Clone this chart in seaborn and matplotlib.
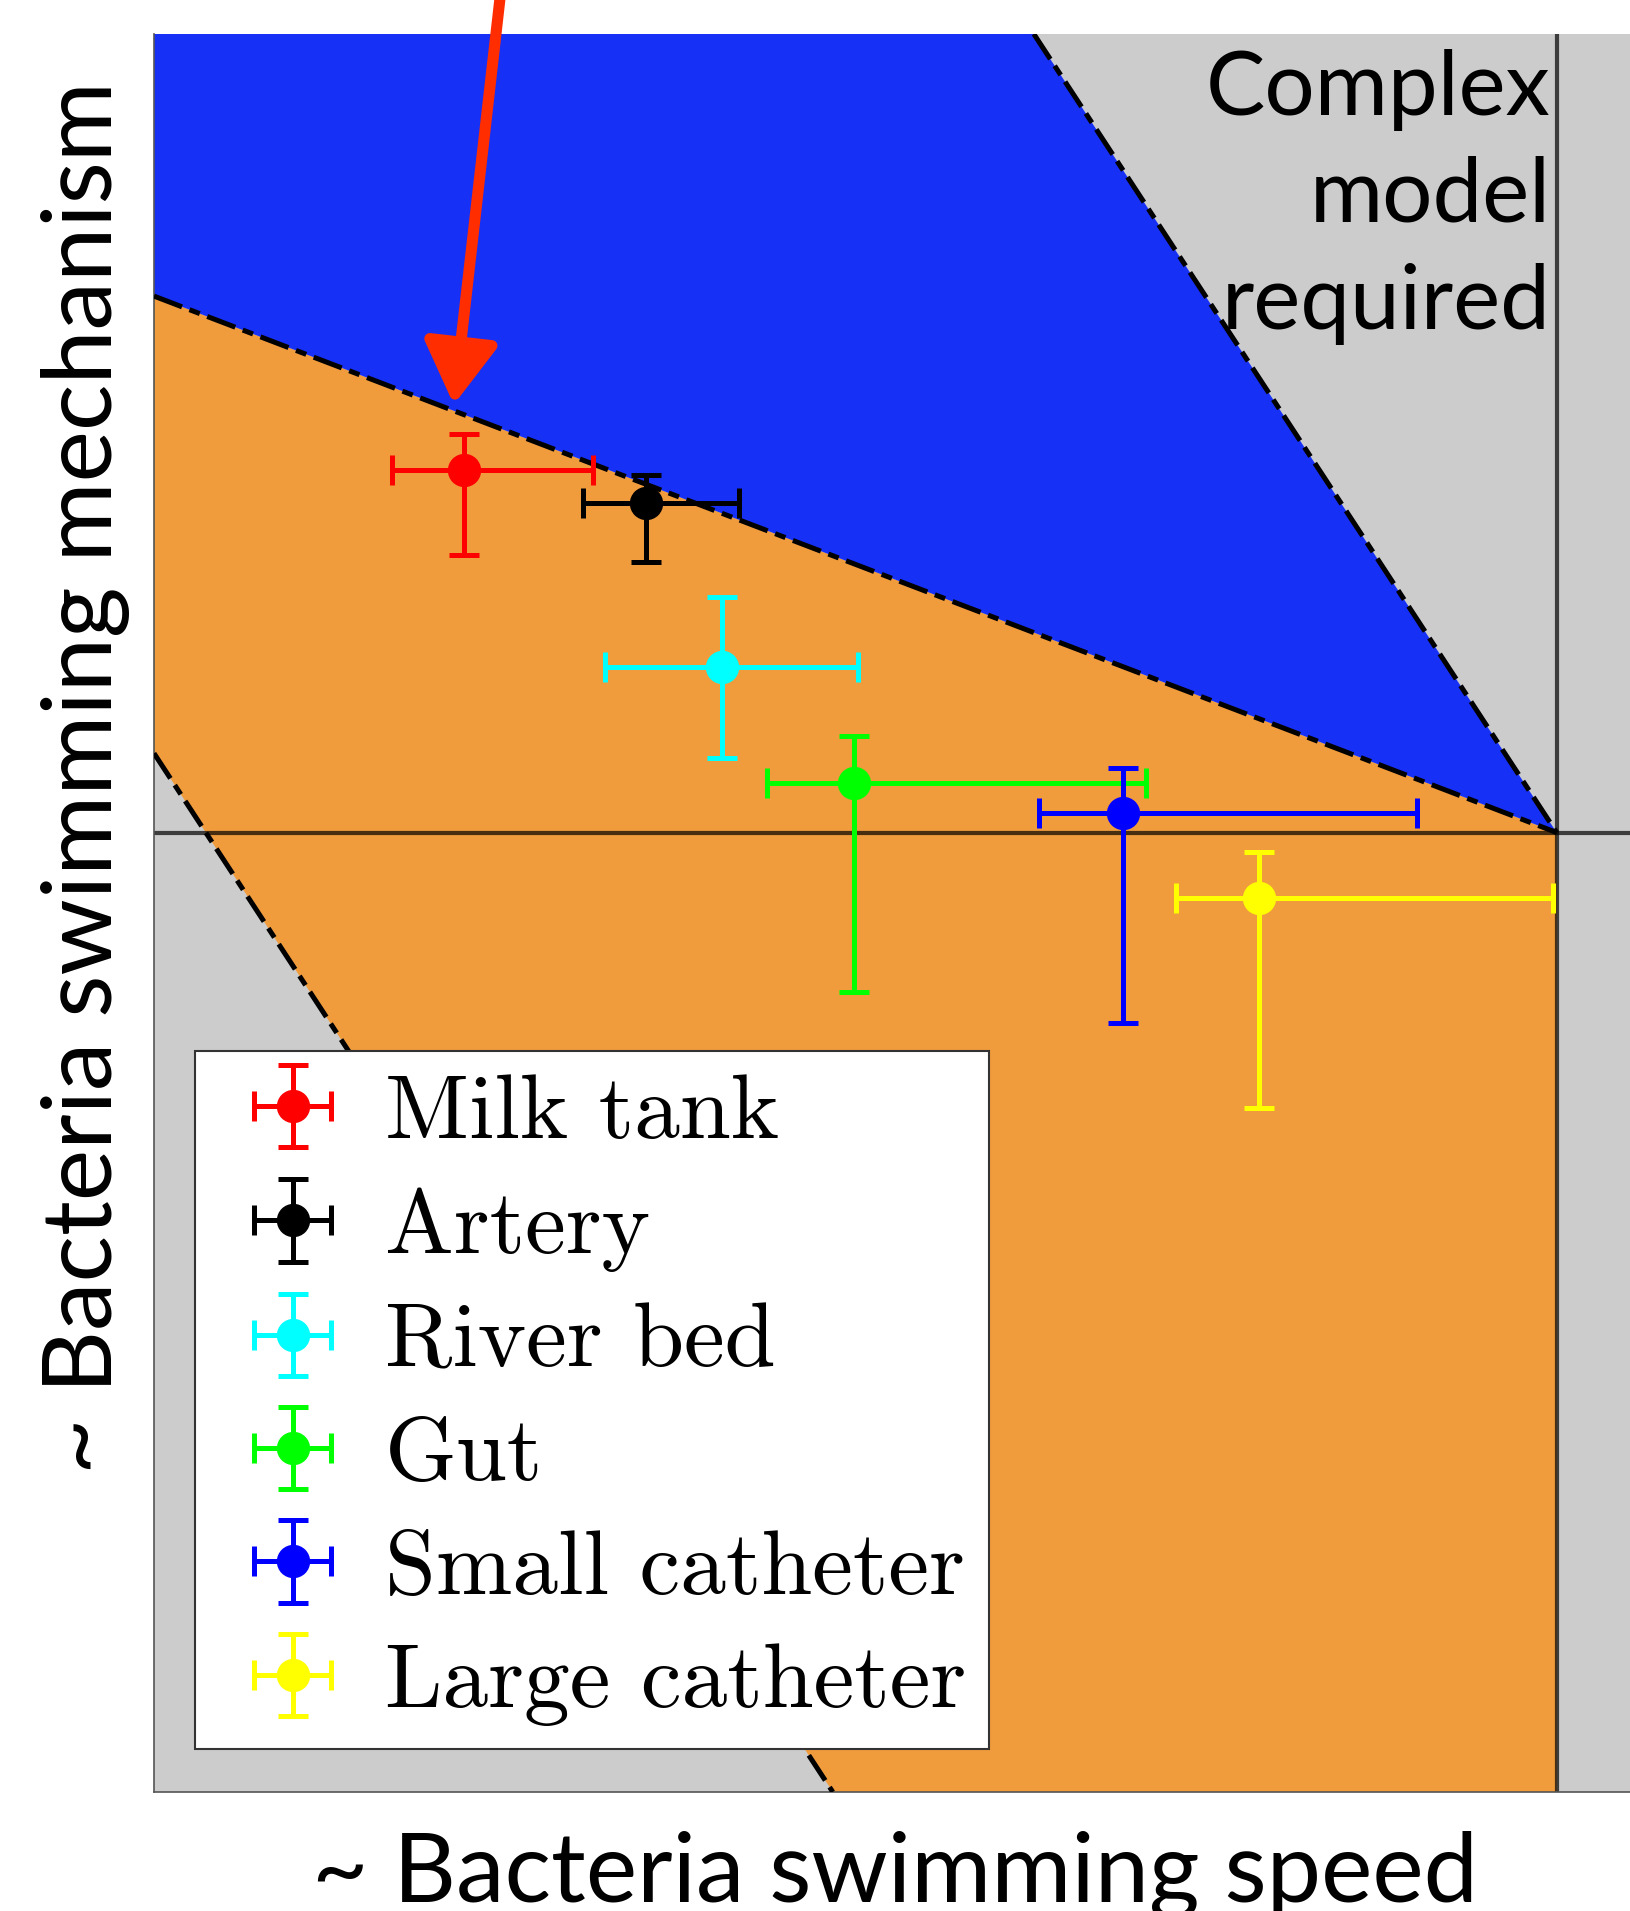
import matplotlib
matplotlib.use("Agg")
import matplotlib.pyplot as plt
import seaborn as sns
from matplotlib.container import ErrorbarContainer
from matplotlib.legend_handler import HandlerErrorbar

# Sites with swimming speed / mechanism estimates (arbitrary units, origin at the corner)
sites = ["Milk tank", "Artery", "River bed", "Gut", "Small catheter", "Large catheter"]
site_colors = ["#ff0000", "#000000", "#00ffff", "#00ff00", "#0000ff", "#ffff00"]
speed = [-8.97, -7.47, -6.85, -5.77, -3.56, -2.44]
speed_lo = [0.59, 0.52, 0.96, 0.71, 0.69, 0.68]
speed_hi = [1.06, 0.76, 1.12, 2.40, 2.41, 2.41]
mech = [2.97, 2.70, 1.36, 0.41, 0.16, -0.54]
mech_lo = [0.69, 0.48, 0.75, 1.72, 1.72, 1.72]
mech_hi = [0.30, 0.23, 0.57, 0.38, 0.37, 0.38]

# Regime boundaries
blue_x = [-11.51, -4.29, 0.0, -11.51]
blue_y = [6.55, 6.55, 0.0, 4.40]
orange_x = [-11.51, 0.0, 0.0, -5.94, -11.51]
orange_y = [4.40, 0.0, -7.87, -7.87, 0.65]
upper_x = [-4.29, 0.0]
upper_y = [6.55, 0.0]
lower_x = [-11.51, 0.0]
lower_y = [4.40, 0.0]
left_x = [-11.51, -5.94]
left_y = [0.65, -7.87]

# Arrow pointing at the blue/orange boundary
arrow_tail = (-8.67, 6.85)
arrow_tip = (-9.05, 3.51)

sns.set_theme(style="white")
plt.rcParams["font.family"] = ["Lato", "DejaVu Sans"]
plt.rcParams["text.color"] = "black"

fig = plt.figure(figsize=(16.31, 19.11), dpi=100)
ax = fig.add_axes([154 / 1631, 119 / 1911, 1477 / 1631, 1758 / 1911])
ax.set_facecolor("#cccccc")

ax.fill(orange_x, orange_y, color="#f09b3c", lw=0, zorder=1)
ax.fill(blue_x, blue_y, color="#1730f5", lw=0, zorder=1)

ax.axhline(0, color="black", alpha=0.7, lw=3.0, zorder=2)
ax.axvline(0, color="black", alpha=0.7, lw=3.0, zorder=2)

dash = (0, (6, 1.6, 2.2, 1.6))
for bx, by in [(upper_x, upper_y), (lower_x, lower_y), (left_x, left_y)]:
    ax.plot(bx, by, color="black", lw=3.6, linestyle=dash, zorder=3)

for i, site in enumerate(sites):
    ax.errorbar(speed[i], mech[i],
                xerr=[[speed_lo[i]], [speed_hi[i]]],
                yerr=[[mech_lo[i]], [mech_hi[i]]],
                fmt="o", color=site_colors[i], ms=23, lw=3.6,
                capsize=11, capthick=3.6, label=site, zorder=4)

ax.text(-0.05, 6.43, "Complex\nmodel\nrequired", ha="right", va="top",
        fontsize=64, linespacing=1.38, zorder=5)

ax.annotate("", xy=arrow_tip, xytext=arrow_tail,
            arrowprops=dict(arrowstyle="-|>,head_length=0.75,head_width=0.45",
                            color="#ff2d00", lw=8, mutation_scale=50,
                            shrinkA=0, shrinkB=0),
            annotation_clip=False, zorder=6)

ax.set_xlim(-11.51, 0.61)
ax.set_ylim(-7.87, 6.55)
ax.set_xticks([])
ax.set_yticks([])
for side in ["top", "right"]:
    ax.spines[side].set_visible(False)
for side in ["left", "bottom"]:
    ax.spines[side].set_color("#555555")
    ax.spines[side].set_linewidth(1.2)

leg = ax.legend(loc="upper left", bbox_to_anchor=(-11.17, -1.79),
                bbox_transform=ax.transData, borderaxespad=0,
                prop={"family": "cmr10", "size": 66}, frameon=True,
                fancybox=False, framealpha=1, edgecolor="#333333",
                handlelength=1.62, handletextpad=0.2, borderpad=0.25,
                labelspacing=0.34,
                handler_map={ErrorbarContainer: HandlerErrorbar(xerr_size=0.42, yerr_size=0.45)})
leg.get_frame().set_linewidth(1.5)
leg.set_zorder(7)

fig.text(0.0687, 0.593, "~ Bacteria swimming mechanism", rotation=90,
         rotation_mode="anchor", ha="center", va="baseline", fontsize=70)
fig.text(0.549, 0.0047, "~ Bacteria swimming speed", ha="center",
         va="baseline", fontsize=70)

fig.savefig("out.png", dpi=100)
